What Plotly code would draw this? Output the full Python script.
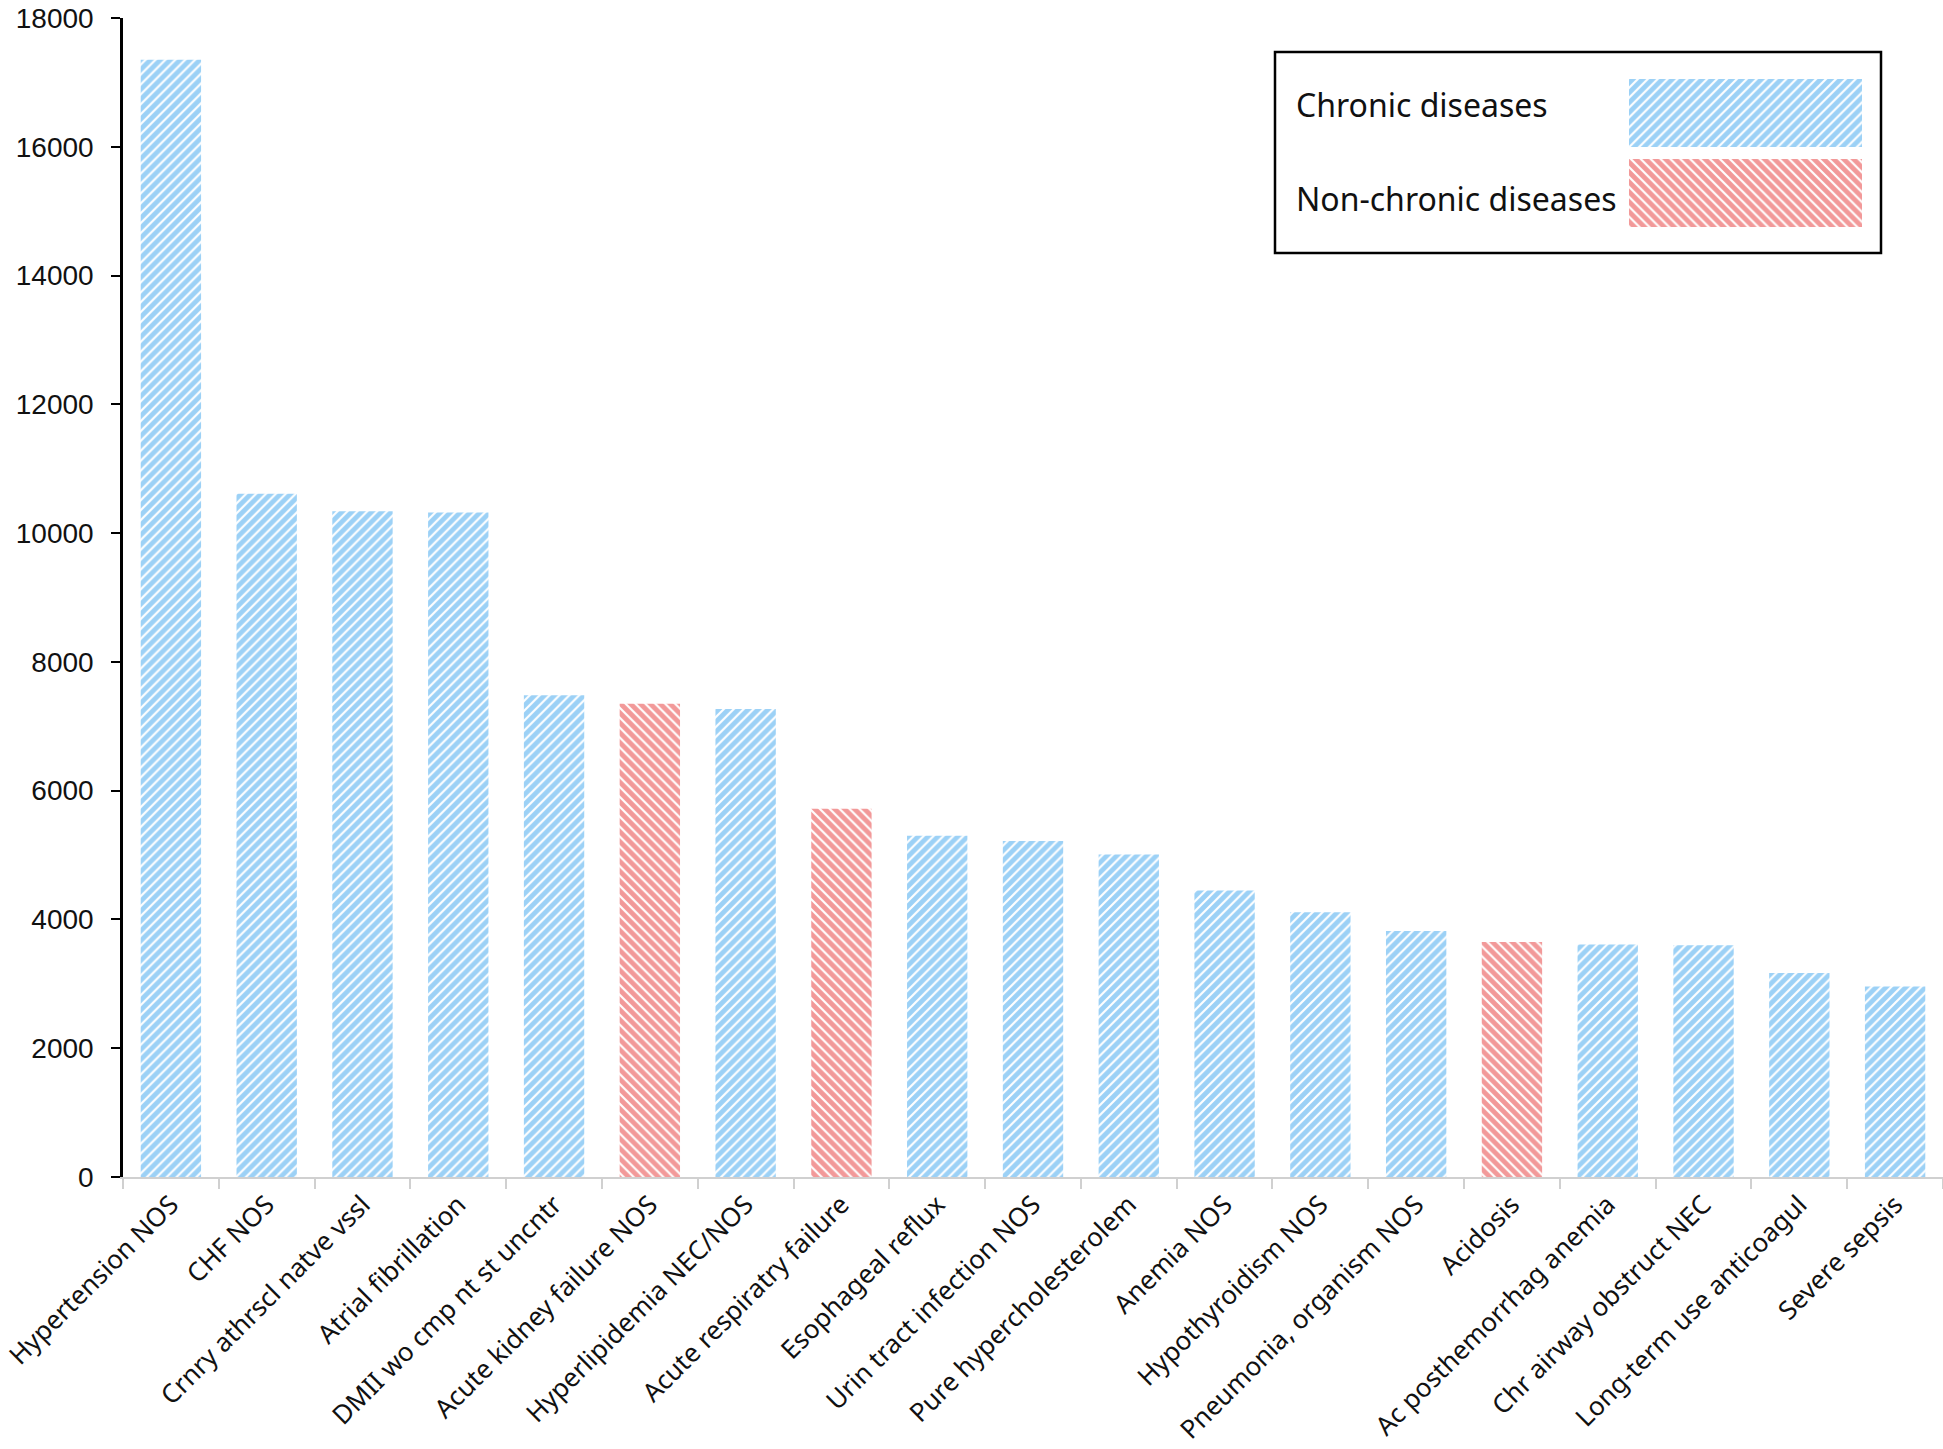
import plotly.graph_objects as go

categories = [
    "Hypertension NOS", "CHF NOS", "Crnry athrscl natve vssl", "Atrial fibrillation",
    "DMII wo cmp nt st uncntr", "Acute kidney failure NOS", "Hyperlipidemia NEC/NOS",
    "Acute respiratry failure", "Esophageal reflux", "Urin tract infection NOS",
    "Pure hypercholesterolem", "Anemia NOS", "Hypothyroidism NOS",
    "Pneumonia, organism NOS", "Acidosis", "Ac posthemorrhag anemia",
    "Chr airway obstruct NEC", "Long-term use anticoagul", "Severe sepsis",
]
values = [17350, 10610, 10340, 10320, 7480, 7350, 7270, 5720, 5300, 5220,
          5010, 4450, 4110, 3820, 3650, 3610, 3600, 3170, 2960]
groups = ["Chronic", "Chronic", "Chronic", "Chronic", "Chronic", "Non-chronic", "Chronic",
          "Non-chronic", "Chronic", "Chronic", "Chronic", "Chronic", "Chronic", "Chronic",
          "Non-chronic", "Chronic", "Chronic", "Chronic", "Chronic"]
legend_labels = ["Chronic diseases", "Non-chronic diseases"]
legend_groups = ["Chronic", "Non-chronic"]

BLUE = "#3aa4ee"
RED = "#e53434"
color_of = {"Chronic": BLUE, "Non-chronic": RED}
shape_of = {"Chronic": "/", "Non-chronic": "\\"}

W, H = 1943, 1449
L, R, T, B = 123, 0, 18, 272
PW, PH = W - L - R, H - T - B

def px_x(x):
    return (x - L) / PW

def px_y(y):
    return (H - B - y) / PH

pattern_common = dict(bgcolor="white", size=7, solidity=0.7)

fig = go.Figure()
fig.add_trace(go.Bar(
    x=categories, y=values, width=0.63,
    marker=dict(
        color="white",
        line=dict(width=0),
        pattern=dict(
            shape=[shape_of[g] for g in groups],
            fgcolor=[color_of[g] for g in groups],
            **pattern_common,
        ),
    ),
    showlegend=False, xaxis="x", yaxis="y",
))

# legend swatches drawn as patterned bars in a small inset axis
fig.add_trace(go.Bar(
    y=legend_groups, x=[1, 1], orientation="h", width=0.85,
    marker=dict(
        color="white",
        line=dict(width=0),
        pattern=dict(
            shape=[shape_of[g] for g in legend_groups],
            fgcolor=[color_of[g] for g in legend_groups],
            **pattern_common,
        ),
    ),
    showlegend=False, xaxis="x2", yaxis="y2", hoverinfo="skip",
))

fig.update_layout(
    width=W, height=H,
    margin=dict(l=L, r=R, t=T, b=B, pad=0, autoexpand=False),
    paper_bgcolor="white", plot_bgcolor="white",
    bargap=0.37,
    xaxis=dict(
        type="category", categoryorder="array", categoryarray=categories,
        range=[-0.5, len(categories) - 0.5], automargin=False,
        tickangle=-45, tickson="boundaries", ticks="outside", ticklen=10,
        tickcolor="#d0d0d0", tickwidth=2,
        showline=True, linecolor="#d0d0d0", linewidth=2,
        showgrid=False, zeroline=False,
        tickfont=dict(family="Noto Sans", size=26, color="#111111"),
    ),
    yaxis=dict(
        range=[0, 18000], dtick=2000, tick0=0, automargin=False,
        ticks="outside", ticklen=9, tickcolor="black", tickwidth=2,
        showline=True, linecolor="black", linewidth=2.5,
        showgrid=False, zeroline=False, ticklabelstandoff=12,
        tickfont=dict(family="Liberation Sans", size=28, color="#111111"),
        tickformat="d",
    ),
    xaxis2=dict(domain=[px_x(1629), px_x(1862)], range=[0, 1], anchor="y2",
                visible=False, fixedrange=True),
    yaxis2=dict(domain=[px_y(233), px_y(73)], anchor="x2", type="category",
                categoryorder="array", categoryarray=legend_groups,
                autorange="reversed", visible=False, fixedrange=True),
    shapes=[dict(type="rect", xref="paper", yref="paper",
                 x0=px_x(1275), x1=px_x(1881), y0=px_y(253), y1=px_y(52),
                 line=dict(color="black", width=2.5), fillcolor="rgba(0,0,0,0)")],
    annotations=[
        dict(text=legend_labels[0], xref="paper", yref="paper",
             x=px_x(1294), y=px_y(104), xanchor="left", yanchor="middle",
             showarrow=False, font=dict(family="Noto Sans", size=32, color="#111111")),
        dict(text=legend_labels[1], xref="paper", yref="paper",
             x=px_x(1294), y=px_y(198), xanchor="left", yanchor="middle",
             showarrow=False, font=dict(family="Noto Sans", size=32, color="#111111")),
    ],
)

fig.write_html(
    "out.html",
    config={"displayModeBar": False},
    post_script="document.body.style.margin='0';document.body.style.overflow='hidden';",
)
